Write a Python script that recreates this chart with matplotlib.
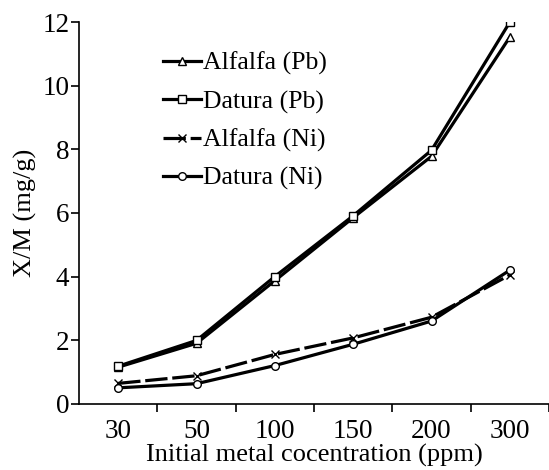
import matplotlib.pyplot as plt

plt.rcParams['font.family'] = ['Liberation Serif', 'DejaVu Serif']

concentrations = ['30', '50', '100', '150', '200', '300']
alfalfa_pb = [1.15, 1.9, 3.87, 5.85, 7.78, 11.53]
datura_pb = [1.18, 1.99, 4.0, 5.91, 7.97, 12.0]
alfalfa_ni = [0.64, 0.88, 1.55, 2.07, 2.72, 4.05]
datura_ni = [0.5, 0.63, 1.2, 1.87, 2.6, 4.2]

fig = plt.figure(figsize=(5.49, 4.70), dpi=100)
ax = fig.add_axes([0.144, 0.141, 0.856, 0.812])

x = list(range(len(concentrations)))
style = dict(color='black', lw=2.3, markersize=5.5, markerfacecolor='white',
             markeredgecolor='black', markeredgewidth=1.0)
ax.plot(x, alfalfa_pb, marker='^', label='Alfalfa (Pb)', **style)
ax.plot(x, datura_pb, marker='s', label='Datura (Pb)', **style)
ax.plot(x, alfalfa_ni, marker='x', ls=(0, (7, 1.5)), label='Alfalfa (Ni)', **style)
ax.plot(x, datura_ni, marker='o', label='Datura (Ni)', **style)

ax.set_xlim(-0.5, 5.42)
ax.set_ylim(0, 12)
ax.set_xticks([i + 0.5 for i in range(6)])
ax.set_xticklabels([])
ax.set_xticks(x, minor=True)
ax.set_xticklabels(concentrations, minor=True)
ax.tick_params(axis='x', which='minor', length=0, labelsize=19.5, pad=11)
ax.tick_params(axis='x', which='major', length=6, width=1.2, direction='out')
ax.set_yticks(range(0, 13, 2))
ax.tick_params(axis='y', length=6, width=1.2, labelsize=19.5, pad=1)

for side in ['top', 'right']:
    ax.spines[side].set_visible(False)
for side in ['left', 'bottom']:
    ax.spines[side].set_linewidth(1.2)

ax.set_xlabel('Initial metal cocentration (ppm)', fontsize=19, labelpad=0)
ax.set_ylabel('X/M (mg/g)', fontsize=19, labelpad=4)

ax.legend(loc='upper left', bbox_to_anchor=(0.145, 0.962), frameon=False,
          fontsize=18.5, handlelength=1.5, handletextpad=0.08,
          labelspacing=0.58, borderaxespad=0.2)

fig.savefig('out.png', dpi=100)
